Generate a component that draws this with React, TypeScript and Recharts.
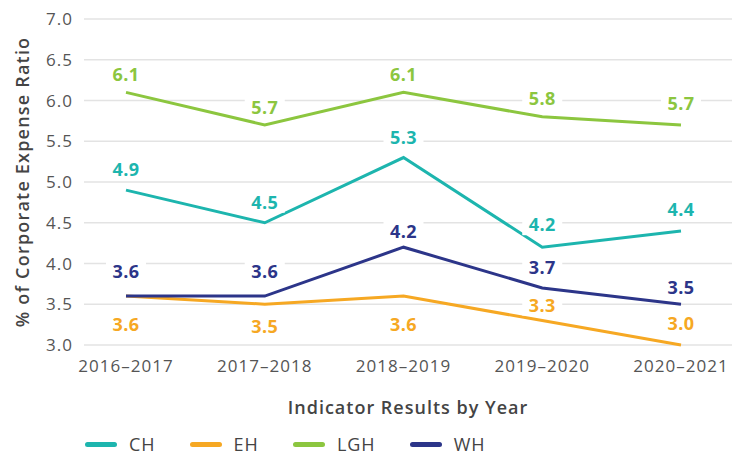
import { CartesianGrid, Label, LabelList, Legend, Line, LineChart, XAxis, YAxis } from "recharts"

const years = ["2016–2017", "2017–2018", "2018–2019", "2019–2020", "2020–2021"]
const chValues = [4.9, 4.5, 5.3, 4.2, 4.4]
const ehValues = [3.6, 3.5, 3.6, 3.3, 3.0]
const lghValues = [6.1, 5.7, 6.1, 5.8, 5.7]
const whValues = [3.6, 3.6, 4.2, 3.7, 3.5]
const yTicks = [3.0, 3.5, 4.0, 4.5, 5.0, 5.5, 6.0, 6.5, 7.0]

const data = years.map((year, i) => ({
  year,
  CH: chValues[i],
  EH: ehValues[i],
  LGH: lghValues[i],
  WH: whValues[i],
}))

const FONT = "'Open Sans', sans-serif"

// label nudges (px) so values sit above/below their points like the original
const series = [
  { key: "CH", color: "#1db5ae", labelDy: [-21, -21, -21, -23, -22] },
  { key: "EH", color: "#f6a823", labelDy: [28, 22, 28, -16, -22] },
  { key: "LGH", color: "#8cc63f", labelDy: [-18, -18, -18, -19, -22] },
  { key: "WH", color: "#2c3589", labelDy: [-25, -25, -16, -21, -17] },
]

function valueLabel(color: string, dys: number[]) {
  return (props: any) => {
    const { x, y, value, index } = props
    const cy = y + dys[index]
    const text = Number(value).toFixed(1)
    return (
      <g>
        <rect x={x - 20} y={cy - 11} width={40} height={22} fill="#fff" />
        <text
          x={x}
          y={cy}
          textAnchor="middle"
          dominantBaseline="central"
          fill={color}
          fontFamily={FONT}
          fontSize={18}
          fontWeight={700}
          letterSpacing={0.5}
        >
          {text}
        </text>
      </g>
    )
  }
}

function YTitle(props: any) {
  const { y, height } = props.viewBox
  const cy = y + height / 2
  return (
    <text
      x={22}
      y={cy}
      transform={`rotate(-90, 22, ${cy})`}
      textAnchor="middle"
      dominantBaseline="central"
      fill="#444"
      fontFamily={FONT}
      fontSize={18}
      fontWeight={600}
      letterSpacing={1.2}
    >
      % of Corporate Expense Ratio
    </text>
  )
}

function XTitle(props: any) {
  const { x, y, width } = props.viewBox
  return (
    <text
      x={x + width / 2}
      y={y + 62}
      textAnchor="middle"
      dominantBaseline="central"
      fill="#444"
      fontFamily={FONT}
      fontSize={18}
      fontWeight={600}
      letterSpacing={1}
    >
      Indicator Results by Year
    </text>
  )
}

function LegendContent() {
  return (
    <div style={{ display: "flex", alignItems: "center", paddingLeft: 85, paddingTop: 7, fontFamily: FONT }}>
      {series.map((s) => (
        <div key={s.key} style={{ display: "flex", alignItems: "center", marginRight: 34 }}>
          <div style={{ width: 32, height: 5, borderRadius: 3, background: s.color, marginRight: 12 }} />
          <span style={{ fontSize: 18, color: "#444", letterSpacing: 1 }}>{s.key}</span>
        </div>
      ))}
    </div>
  )
}

export default function App() {
  return (
    <div style={{ position: "absolute", left: 0, top: 0, background: "#fff" }}>
      <LineChart width={748} height={455} data={data} margin={{ top: 19, right: 16, bottom: 0, left: 0 }}>
        <CartesianGrid vertical={false} stroke="#e3e3e3" strokeWidth={1.5} />
        <XAxis
          dataKey="year"
          axisLine={false}
          tickLine={false}
          tickMargin={9}
          height={80}
          padding={{ left: 42, right: 51 }}
          tick={{ fill: "#555", fontSize: 17, fontFamily: FONT, letterSpacing: 1 }}
        >
          <Label content={XTitle} />
        </XAxis>
        <YAxis
          domain={[3, 7]}
          ticks={yTicks}
          tickFormatter={(v: number) => v.toFixed(1)}
          axisLine={false}
          tickLine={false}
          tickMargin={5}
          width={84}
          tick={{ fill: "#555", fontSize: 17, fontFamily: FONT, letterSpacing: 1 }}
        >
          <Label content={YTitle} />
        </YAxis>
        <Legend verticalAlign="bottom" height={30} wrapperStyle={{ left: 0, width: 748 }} content={LegendContent} />
        {series.map((s) => (
          <Line
            key={s.key}
            dataKey={s.key}
            stroke={s.color}
            strokeWidth={3}
            dot={false}
            activeDot={false}
            isAnimationActive={false}
          >
            <LabelList dataKey={s.key} content={valueLabel(s.color, s.labelDy)} />
          </Line>
        ))}
      </LineChart>
    </div>
  )
}
